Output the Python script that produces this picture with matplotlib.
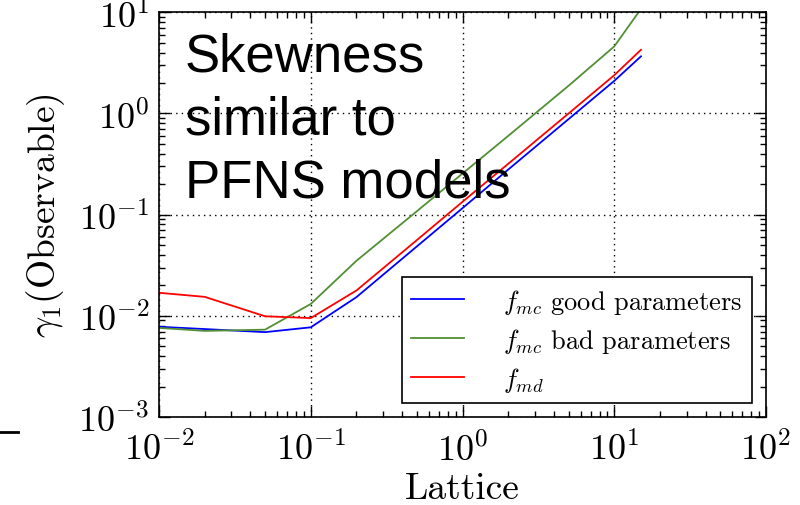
import matplotlib
matplotlib.use("Agg")
import matplotlib.pyplot as plt
from matplotlib.lines import Line2D

# data
lattice = [0.01, 0.02, 0.05, 0.1, 0.2, 0.5, 1, 2, 5, 10, 15]
good_mc = [0.0078, 0.0074, 0.0069, 0.0077, 0.0153, 0.0485, 0.116, 0.279, 0.88, 2.1, 3.67]
bad_mc = [0.0076, 0.0071, 0.0073, 0.0131, 0.035, 0.108, 0.255, 0.60, 1.88, 4.6, 10.8]
md = [0.0169, 0.0154, 0.0099, 0.0095, 0.0178, 0.056, 0.134, 0.318, 1.0, 2.39, 4.26]

labels = [r"$f_{mc}$ good parameters", r"$f_{mc}$ bad parameters", r"$f_{md}$"]
colors = ["#0000ff", "#528f34", "#ff0000"]

plt.rcParams["font.family"] = "cmr10"
plt.rcParams["mathtext.fontset"] = "cm"
plt.rcParams["axes.formatter.use_mathtext"] = True
plt.rcParams["axes.unicode_minus"] = False

fig = plt.figure(figsize=(8, 5.06), dpi=100)
ax = fig.add_axes([0.19875, 0.1739, 0.75875, 0.7998])

for y, lab, c in zip([good_mc, bad_mc, md], labels, colors):
    ax.plot(lattice, y, color=c, lw=1.3, label=lab)

ax.set_xscale("log")
ax.set_yscale("log")
ax.set_xlim(1e-2, 1e2)
ax.set_ylim(1e-3, 1e1)

ax.grid(True, which="major", color="black", linestyle=(0, (1, 3)), lw=1.0)
ax.tick_params(which="both", direction="in", top=True, right=True, labelsize=26)
ax.tick_params(axis="x", pad=10)
ax.tick_params(axis="y", pad=7)
ax.tick_params(which="major", length=8, width=1)
ax.tick_params(which="minor", length=4, width=1)
for s in ax.spines.values():
    s.set_linewidth(1.2)

ax.set_xlabel("Lattice", fontsize=27, labelpad=4)
ax.set_ylabel(r"$\gamma_1$(Observable)", fontsize=27, labelpad=8)

leg = ax.legend(loc="lower right", bbox_to_anchor=(0.977, 0.035), fontsize=19,
                fancybox=False, framealpha=1, edgecolor="black",
                handlelength=2.0, handletextpad=1.5, labelspacing=0.38,
                borderpad=0.35, borderaxespad=0)
leg.get_frame().set_linewidth(1.2)

fig.text(185 / 800, 1 - 33 / 506, "Skewness\nsimilar to\nPFNS models",
         fontsize=38, family="Liberation Sans", ha="left", va="top", linespacing=1.33)

# small stray dash at the left edge
fig.add_artist(Line2D([0, 18 / 800], [1 - 433 / 506] * 2, color="black", lw=2))

fig.savefig("out.png", dpi=100)
